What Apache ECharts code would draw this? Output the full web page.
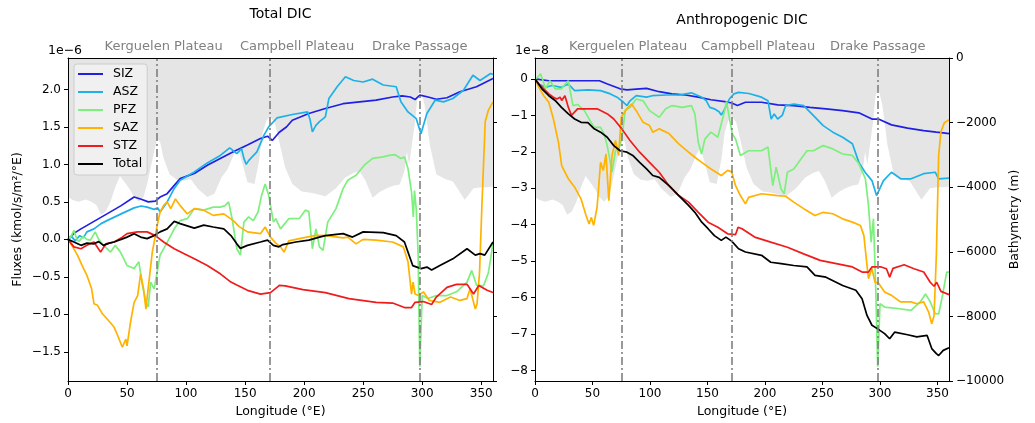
<!DOCTYPE html>
<html>
<head>
<meta charset="utf-8">
<script src="https://cdn.jsdelivr.net/npm/echarts@6/dist/echarts.min.js"></script>
<style>
  html, body { margin: 0; padding: 0; background: #ffffff; }
  #chart { width: 1035px; height: 423px; }
</style>
</head>
<body>
<div id="chart"></div>
<script>
// ---- Axis ticks ----
const lonTicks = [0, 50, 100, 150, 200, 250, 300, 350];
const totalTicks = [-1.5, -1.0, -0.5, 0, 0.5, 1.0, 1.5, 2.0];      // ×1e-6
const anthroTicks = [-8, -7, -6, -5, -4, -3, -2, -1, 0];           // ×1e-8
const depthTicks = [-10000, -8000, -6000, -4000, -2000, 0];        // m

// ---- Features (longitude of dividing lines, longitude of their captions) ----
const featureLon = [75, 171, 298];
const featureNames = ['Kerguelen Plateau', 'Campbell Plateau', 'Drake Passage'];
const featureLabelLon = [81, 194, 298];

// ---- Zone names ----
const zones = ['SIZ', 'ASZ', 'PFZ', 'SAZ', 'STZ', 'Total'];

// ---- Bathymetry along the section [lon, depth m] ----
const bathymetry = [[0,-4300],[4,-4400],[9,-4450],[15,-4380],[20,-4450],[24,-4550],[28,-4850],[32,-4750],[36,-4450],[40,-4000],[44,-3650],[48,-3850],[52,-4050],[56,-4300],[60,-4450],[64,-4300],[67,-3900],[70,-3400],[73,-2900],[75.5,-2500],[78,-2600],[81,-3100],[86,-3600],[92,-3770],[98,-3800],[104,-3750],[110,-4050],[118,-4300],[124,-4200],[130,-3700],[135,-3450],[141,-2950],[144,-2800],[148,-3300],[152,-3850],[158,-3900],[162,-3150],[165,-2300],[168,-1950],[171,-1800],[175,-2000],[179,-2600],[184,-3400],[190,-3900],[198,-4130],[207,-4180],[218,-4280],[227,-4030],[235,-3700],[242,-3550],[247,-3500],[252,-3800],[258,-4330],[264,-4150],[270,-4030],[276,-3950],[281,-3920],[285,-3500],[287,-2900],[289,-3300],[292,-2500],[294,-1970],[296,-1200],[298.5,-940],[300,-1000],[302,-1450],[304,-2000],[306.5,-2690],[312,-3600],[320,-3750],[326,-3820],[331,-4100],[336,-4390],[340,-4200],[343.5,-4030],[350,-4000],[355,-4000],[360,-3980]];

// ---- Total DIC fluxes [lon, value ×1e-6 kmol/s/m²/°E] ----
const totalSIZ = [[0,0],[5,0.08],[11,0.14],[22,0.24],[33,0.34],[45,0.45],[56,0.565],[62,0.535],[68,0.50],[74,0.51],[78,0.565],[84,0.61],[90,0.72],[95,0.81],[107,0.88],[118,0.99],[129,1.08],[140,1.17],[152,1.26],[163,1.345],[169,1.376],[173,1.32],[179,1.43],[185,1.5],[190,1.59],[204,1.68],[218,1.746],[233,1.81],[247,1.835],[261,1.857],[275,1.9],[283,1.915],[290,1.9],[294,1.866],[298,1.924],[305,1.9],[312,1.87],[321,1.89],[332,1.97],[346,2.036],[360,2.147]];
const totalASZ = [[0,0.0],[3,0.04],[6,-0.02],[10,0.05],[13,0.02],[16,0.10],[22,0.14],[28,0.21],[33,0.25],[45,0.34],[56,0.42],[62,0.445],[67,0.43],[73,0.40],[76,0.42],[78,0.365],[84,0.5],[90,0.68],[95,0.79],[107,0.9],[118,1.02],[129,1.12],[137,1.22],[143,1.145],[147,1.21],[149,1.08],[151,1.0],[153,1.05],[156,1.1],[160,1.167],[166,1.39],[170,1.5],[177,1.62],[190,1.666],[203,1.7],[205,1.6],[207,1.434],[210,1.52],[213,1.57],[218,1.635],[221,1.88],[228,2.036],[235,2.17],[242,2.12],[250,2.1],[258,2.138],[267,2.06],[278,2.036],[282,1.835],[288,1.7],[295,1.61],[299,1.41],[304,1.68],[311,1.857],[318,1.835],[326,1.88],[335,1.99],[343,2.19],[349,2.12],[358,2.214],[360,2.2]];
const totalPFZ = [[0,0],[3,0.05],[5,0.12],[7,0.02],[9,-0.03],[13,0.04],[16,0.0],[19,-0.01],[23,0.1],[26,0.0],[30,-0.08],[33,-0.125],[36,-0.17],[40,-0.08],[44,-0.16],[47,-0.25],[50,-0.35],[56,-0.39],[60,-0.3],[63,-0.61],[66,-0.84],[68,-0.9],[70,-0.57],[73,-0.66],[76,-0.39],[78,-0.21],[84,-0.04],[90,0.14],[95,0.25],[101,0.276],[107,0.41],[115,0.39],[123,0.43],[129,0.43],[133,0.45],[136,0.5],[139,0.276],[143,-0.125],[146,-0.21],[149,0.23],[153,0.3],[157,0.25],[161,0.365],[164,0.59],[167,0.74],[170,0.59],[174,0.23],[176,0.276],[180,0.14],[187,0.276],[196,0.28],[201,0.39],[204,0.37],[207,-0.125],[210,0.14],[213,-0.1],[216,-0.147],[220,0.23],[227,0.41],[233,0.677],[237,0.79],[244,0.855],[251,0.99],[258,1.08],[267,1.1],[272,1.12],[277,1.13],[282,1.08],[285,1.1],[288,0.944],[291,0.63],[292.5,0.3],[293.5,0.65],[295,0.4],[296.6,-0.21],[298,-1.7],[300,-0.75],[305,-0.79],[312,-0.75],[321,-0.75],[329,-0.7],[338,-0.57],[342,-0.414],[346,-0.61],[352,-0.62],[356,-0.45],[358,-0.26],[360,-0.04]];
const totalSAZ = [[0,0],[4,-0.1],[8,-0.21],[12,-0.35],[16,-0.48],[20,-0.66],[22,-0.86],[25,-0.88],[29,-0.99],[33,-1.06],[39,-1.17],[42,-1.28],[46,-1.44],[49,-1.33],[50,-1.42],[53,-1.1],[56,-0.84],[59,-0.75],[61.5,-0.46],[64,-0.66],[66,-0.93],[68.5,-0.57],[71.4,-0.17],[74,0.05],[75.6,0.19],[78,0.365],[81,0.45],[84,0.5],[87,0.41],[91,0.54],[95,0.45],[101,0.34],[107,0.41],[115,0.39],[123,0.32],[132,0.34],[140,0.25],[145,0.17],[152,0.1],[163,0.076],[167,0.165],[171.5,0.03],[176,-0.05],[180,-0.1],[183,-0.17],[187,-0.02],[199,0.02],[210,0.053],[219,0.05],[233,0.02],[237,0.03],[244,-0.06],[250,0.0],[261,-0.01],[275,-0.035],[284,-0.1],[288,-0.3],[291,-0.73],[292.3,-0.57],[294,-0.73],[297,-0.75],[301,-0.7],[306,-0.815],[315,-0.84],[324,-0.77],[332,-0.815],[338,-0.79],[340.6,-0.66],[345,-0.93],[346.5,-0.86],[348.6,-0.44],[350.6,0.45],[353.4,1.57],[356,1.72],[360,1.835]];
const totalSTZ = [[0,0],[5,-0.1],[11,-0.125],[16,-0.08],[22,-0.035],[27.6,-0.17],[32,-0.06],[39,-0.035],[46,0.03],[50,0.076],[59,0.1],[67,0.1],[74,0.05],[81,-0.035],[90,-0.125],[98,-0.19],[107,-0.26],[118,-0.35],[129,-0.46],[138,-0.57],[143,-0.61],[152,-0.68],[163,-0.73],[171.5,-0.71],[177,-0.64],[179,-0.615],[184,-0.62],[199,-0.67],[218,-0.71],[238,-0.79],[261,-0.84],[275,-0.85],[285,-0.91],[291,-0.91],[294,-0.84],[301,-0.83],[308,-0.87],[312,-0.77],[321,-0.64],[329,-0.6],[338,-0.6],[343.5,-0.73],[348,-0.615],[355,-0.68],[360,-0.71]];
const totalTotal = [[0,0],[5,-0.035],[11,-0.08],[16,-0.05],[22,-0.06],[26,-0.03],[30,-0.08],[35,-0.05],[39,-0.035],[45,0.0],[50,0.03],[56,0.076],[61.5,0.03],[67,0.01],[72.8,0.05],[78,0.1],[84,0.14],[90,0.24],[95,0.21],[101,0.18],[107,0.15],[115,0.19],[123,0.165],[132,0.14],[138,0.05],[143,-0.06],[146,-0.12],[152,-0.08],[163,-0.035],[169,-0.01],[174,-0.08],[178.6,-0.1],[182,-0.07],[193,-0.035],[204,-0.01],[213,0.03],[218,0.05],[233,0.076],[241,0.03],[250,0.1],[267,0.09],[278,0.05],[285,-0.035],[288,-0.17],[292,-0.35],[299,-0.39],[304,-0.37],[308,-0.41],[315,-0.35],[326,-0.26],[338,-0.125],[345,-0.21],[349,-0.19],[353,-0.21],[360,-0.035]];

// ---- Anthropogenic DIC fluxes [lon, value ×1e-8 kmol/s/m²/°E] ----
const anthroSIZ = [[0,0],[12,-0.05],[29,-0.05],[46,-0.05],[56,-0.05],[63,-0.14],[74,-0.27],[80,-0.3],[88,-0.28],[97,-0.26],[108,-0.35],[119,-0.41],[131,-0.44],[142,-0.5],[153,-0.57],[165,-0.62],[171,-0.66],[176,-0.73],[183,-0.64],[197,-0.64],[211,-0.71],[225,-0.73],[239,-0.78],[253,-0.82],[267.5,-0.87],[281.6,-0.93],[293,-1.1],[298.6,-1.1],[310,-1.26],[324,-1.35],[338,-1.42],[349,-1.46],[355,-1.48],[360,-1.5]];
const anthroASZ = [[0,0],[3.4,-0.14],[9,-0.23],[14.7,-0.18],[23,-0.23],[29,-0.14],[34.5,-0.32],[46,-0.3],[57,-0.32],[65.6,-0.41],[71.3,-0.5],[77,-0.64],[80,-0.73],[82.6,-0.6],[88,-0.46],[97,-0.5],[102,-0.46],[114,-0.44],[125,-0.44],[136,-0.38],[145,-0.5],[149,-0.6],[152,-0.78],[156,-0.82],[160,-0.9],[162,-0.99],[164.6,-0.85],[169,-0.55],[173,-0.41],[177,-0.37],[186,-0.4],[197,-0.5],[202.6,-0.6],[205.4,-1.1],[208,-0.96],[211,-1.1],[215,-1.0],[218,-0.73],[225,-0.69],[233.6,-0.73],[242,-1.0],[250.6,-1.28],[259,-1.46],[267.5,-1.6],[276,-1.78],[281.6,-2.29],[287,-2.56],[293,-2.79],[297,-3.2],[303,-2.79],[310,-2.56],[318,-2.74],[327,-2.74],[338,-2.6],[348,-2.56],[351,-2.74],[360,-2.72]];
const anthroPFZ = [[0,0],[2.5,0.05],[4.8,0.14],[7,-0.05],[9,-0.27],[13,-0.05],[17.5,-0.27],[23,-0.27],[26,-0.15],[29,-0.05],[33,-0.73],[37,-0.7],[43,-0.87],[48.7,-1.19],[51.5,-1.33],[57,-1.33],[60,-1.5],[62.8,-1.83],[65,-2.2],[67,-2.56],[70,-1.97],[74,-1.83],[76,-1.5],[78.4,-0.87],[82.6,-0.78],[88,-0.55],[94,-0.6],[99.6,-0.87],[108,-1.05],[113.7,-0.82],[119.4,-0.73],[128,-0.78],[136,-0.73],[139,-0.96],[142,-1.74],[144.8,-2.06],[147.7,-1.65],[153,-1.46],[159,-1.6],[164.6,-0.91],[166.5,-0.62],[168,-0.64],[171.5,-1.5],[174.4,-1.65],[178.6,-2.1],[185.7,-1.97],[197,-1.97],[202.6,-1.87],[206.8,-2.93],[209.7,-2.42],[214,-3.02],[216.7,-3.15],[219.5,-2.56],[225,-2.47],[236.5,-1.97],[242,-1.97],[250.6,-1.83],[259,-1.92],[267.5,-2.06],[276,-2.1],[281.6,-2.33],[287.3,-2.74],[290,-3.47],[292.3,-4.48],[294.3,-3.84],[296.3,-5.76],[298,-7.9],[300,-6.17],[304,-6.26],[315.5,-6.3],[327,-6.35],[335,-6.12],[339.5,-5.9],[343.7,-6.12],[348,-6.44],[351,-6.45],[354,-6.0],[358,-5.3],[360,-5.3]];
const anthroSAZ = [[0,0],[3.4,-0.23],[7.6,-0.46],[12,-0.64],[16,-1.1],[20.4,-1.74],[23.2,-2.38],[29,-2.74],[34.5,-2.97],[40,-3.29],[44.4,-3.75],[47,-3.98],[49,-3.8],[51,-4.02],[54,-3.52],[57,-2.29],[59.4,-2.51],[61.7,-2.06],[64.2,-3.34],[67,-2.1],[70,-1.69],[72.7,-2.1],[75,-1.05],[79.8,-0.82],[84,-0.69],[88,-0.87],[94,-1.19],[99.6,-1.28],[102.4,-1.46],[108,-1.37],[116.5,-1.5],[125,-1.78],[133.5,-2.01],[139,-2.15],[145,-2.29],[153,-2.47],[162,-2.65],[167.5,-2.51],[171,-2.55],[174.4,-2.93],[178.6,-3.2],[183,-3.43],[185.7,-3.25],[197,-3.15],[211,-3.2],[218,-3.22],[225,-3.38],[233.6,-3.56],[243.5,-3.75],[250.6,-3.66],[259,-3.7],[267.5,-3.84],[276,-3.93],[283,-4.02],[286,-4.3],[288.7,-5.12],[290,-5.48],[292.9,-5.2],[295.7,-5.58],[298.6,-5.6],[304,-5.85],[310,-5.94],[318,-6.12],[327,-6.12],[332,-6.17],[338,-6.12],[342.3,-6.4],[345,-6.72],[347,-6.5],[349,-4.84],[351,-2.1],[353,-1.45],[356,-1.2],[360,-1.12]];
const anthroSTZ = [[0,0],[3.4,-0.14],[7.6,-0.27],[12,-0.41],[16,-0.5],[19,-0.55],[21.8,-0.5],[23.2,-0.59],[26,-0.46],[29,-0.78],[31.7,-1.0],[37,-0.82],[46,-0.82],[54,-0.82],[63,-0.96],[68.5,-1.1],[75.5,-1.37],[82.6,-1.69],[91,-2.01],[99.6,-2.29],[108,-2.56],[116.5,-2.93],[125,-3.2],[133.5,-3.38],[142,-3.66],[150.5,-3.93],[159,-4.07],[167.5,-4.25],[174.4,-4.27],[176.6,-4.07],[180,-4.11],[191,-4.34],[205,-4.48],[219.5,-4.62],[233.6,-4.8],[248,-4.98],[262,-5.07],[276,-5.16],[284.4,-5.3],[290,-5.3],[293,-5.16],[301,-5.16],[305.6,-5.21],[308.4,-5.44],[311.3,-5.2],[321,-5.1],[329.6,-5.21],[338,-5.3],[343.7,-5.58],[347,-5.69],[349.3,-5.58],[353,-5.83],[360,-5.92]];
const anthroTotal = [[0,0],[6,-0.27],[12,-0.46],[17.5,-0.59],[23,-0.78],[29,-0.96],[34.5,-1.1],[40,-1.19],[46,-1.2],[51.5,-1.37],[57,-1.46],[62.8,-1.6],[68.5,-1.83],[74,-1.97],[80,-2.01],[85,-2.1],[91,-2.29],[97,-2.47],[102.4,-2.65],[108,-2.7],[116.5,-2.93],[125,-3.2],[133.5,-3.47],[139,-3.66],[145,-3.93],[150.5,-4.11],[156,-4.3],[162,-4.43],[166,-4.34],[171,-4.45],[177,-4.66],[183,-4.75],[197,-4.84],[205,-5.03],[214,-5.07],[225,-5.12],[236.5,-5.16],[243.5,-5.39],[253,-5.44],[267.5,-5.67],[279,-5.8],[284.4,-6.03],[288.7,-6.49],[293,-6.76],[298,-6.86],[304,-6.99],[308.4,-7.13],[312.7,-6.95],[324,-7.02],[332,-7.08],[341,-7.04],[345,-7.4],[349,-7.54],[351,-7.59],[355,-7.45],[360,-7.38]];

// ---- Styling ----
const FONT = 'DejaVu Sans';
const zoneColors = {
  SIZ: '#1f1fe5', ASZ: '#1cb2e8', PFZ: '#7def7d',
  SAZ: '#ffb300', STZ: '#f01c1c', Total: '#000000'
};
const totalData = [totalSIZ, totalASZ, totalPFZ, totalSAZ, totalSTZ, totalTotal];
const anthroData = [anthroSIZ, anthroASZ, anthroPFZ, anthroSAZ, anthroSTZ, anthroTotal];

const minus = (v, digits) => (v < 0 ? '\u2212' : '') + Math.abs(v).toFixed(digits);

const baseAxis = {
  z: 10,
  axisLine: { show: true, onZero: false, lineStyle: { color: '#000', width: 1 } },
  axisTick: { show: true, inside: false, length: 4, lineStyle: { color: '#000', width: 1 } },
  splitLine: { show: false },
  axisLabel: { color: '#000', fontFamily: FONT, fontSize: 12, margin: 7 }
};

function lonAxis(gridIndex) {
  return Object.assign({}, baseAxis, {
    type: 'value', gridIndex, min: 0, max: 360, position: 'bottom',
    axisTick: Object.assign({}, baseAxis.axisTick, { customValues: lonTicks }),
    axisLabel: Object.assign({}, baseAxis.axisLabel, { customValues: lonTicks, margin: 7 }),
    name: 'Longitude (°E)', nameLocation: 'middle', nameGap: 24,
    nameTextStyle: { color: '#000', fontFamily: FONT, fontSize: 12.5 }
  });
}
// upper frame edge of each panel
function topSpine(gridIndex) {
  return {
    type: 'value', gridIndex, min: 0, max: 360, position: 'top', z: 10,
    axisLine: { show: true, onZero: false, lineStyle: { color: '#000', width: 1 } },
    axisTick: { show: false }, axisLabel: { show: false }, splitLine: { show: false }
  };
}
function depthAxis(gridIndex, showLabels) {
  return Object.assign({}, baseAxis, {
    type: 'value', gridIndex, position: 'right', min: -10000, max: 0, interval: 2000,
    axisLabel: Object.assign({}, baseAxis.axisLabel, {
      show: showLabels, formatter: v => minus(v, 0)
    }),
    name: showLabels ? 'Bathymetry (m)' : '',
    nameLocation: 'middle', nameRotate: 90, nameGap: 58,
    nameTextStyle: { color: '#000', fontFamily: FONT, fontSize: 12.5 }
  });
}

const grids = [
  { left: 68, top: 58, width: 425, height: 323 },
  { left: 535, top: 58, width: 414, height: 324 }
];

const xAxes = [lonAxis(0), lonAxis(1), topSpine(0), topSpine(1)];
const yAxes = [
  Object.assign({}, baseAxis, {
    type: 'value', gridIndex: 0, position: 'left', min: -1.89, max: 2.42,
    axisTick: Object.assign({}, baseAxis.axisTick, { customValues: totalTicks }),
    axisLabel: Object.assign({}, baseAxis.axisLabel, { customValues: totalTicks, formatter: v => minus(v, 1) }),
    name: 'Fluxes (kmol/s/m\u00B2/\u00B0E)', nameLocation: 'middle', nameRotate: 90, nameGap: 44,
    nameTextStyle: { color: '#000', fontFamily: FONT, fontSize: 12.5 }
  }),
  depthAxis(0, false),
  Object.assign({}, baseAxis, {
    type: 'value', gridIndex: 1, position: 'left', min: -8.29, max: 0.575,
    axisTick: Object.assign({}, baseAxis.axisTick, { customValues: anthroTicks }),
    axisLabel: Object.assign({}, baseAxis.axisLabel, { customValues: anthroTicks, formatter: v => minus(v, 0) })
  }),
  depthAxis(1, true)
];

const series = [];
[0, 1].forEach(g => {
  // sea floor: grey water column from the surface down to the bottom depth
  series.push({
    type: 'line', name: 'bathymetry' + g, xAxisIndex: g, yAxisIndex: g === 0 ? 1 : 3,
    data: bathymetry, symbol: 'none', silent: true, z: 1,
    lineStyle: { width: 0, opacity: 0 },
    areaStyle: { color: '#e5e5e5', opacity: 1, origin: 'end' },
    markLine: {
      silent: true, symbol: ['none', 'none'], label: { show: false },
      lineStyle: { color: '#7f7f7f', width: 1.6, type: [8, 3, 2, 3] },
      data: featureLon.map(x => ({ xAxis: x }))
    }
  });
  const sets = g === 0 ? totalData : anthroData;
  zones.forEach((z, i) => {
    series.push({
      type: 'line', name: z, xAxisIndex: g, yAxisIndex: g === 0 ? 0 : 2,
      data: sets[i], symbol: 'none', showSymbol: false, z: 3,
      lineStyle: { color: zoneColors[z], width: 1.7 },
      itemStyle: { color: zoneColors[z] }
    });
  });
});

const chart = echarts.init(document.getElementById('chart'), null, { renderer: 'canvas' });
chart.setOption({
  animation: false,
  backgroundColor: '#ffffff',
  textStyle: { fontFamily: FONT },
  grid: grids,
  xAxis: xAxes,
  yAxis: yAxes,
  legend: {
    data: zones, orient: 'vertical', left: 74, top: 64,
    icon: 'rect', itemWidth: 25, itemHeight: 2, itemGap: 4,
    padding: [3, 5, 4, 4],
    backgroundColor: 'rgba(242,242,242,0.85)', borderColor: '#cccccc', borderWidth: 1, borderRadius: 3,
    textStyle: { color: '#000', fontFamily: FONT, fontSize: 12.5, lineHeight: 14, padding: [0, 0, 0, 5] },
    selectedMode: false
  },
  series: series
});

// Titles, exponent markers and feature captions placed through the axes' scales
const textStyle = (txt, x, y, size, color, align) => ({
  type: 'text', x, y, silent: true,
  style: { text: txt, fontFamily: FONT, fontSize: size, fill: color, align: align || 'center', verticalAlign: 'middle' }
});
const graphics = [
  textStyle('Total DIC', chart.convertToPixel({ xAxisIndex: 0 }, 180), 14, 14, '#000'),
  textStyle('Anthropogenic DIC', chart.convertToPixel({ xAxisIndex: 1 }, 180), 20, 14, '#000'),
  textStyle('1e\u22126', 48, 51, 12.5, '#000', 'left'),
  textStyle('1e\u22128', 515, 51, 12.5, '#000', 'left')
];
[0, 1].forEach(g => {
  featureNames.forEach((name, i) => {
    graphics.push(textStyle(name, chart.convertToPixel({ xAxisIndex: g }, featureLabelLon[i]), 47, 13, '#808080'));
  });
});
chart.setOption({ graphic: graphics });
</script>
</body>
</html>
